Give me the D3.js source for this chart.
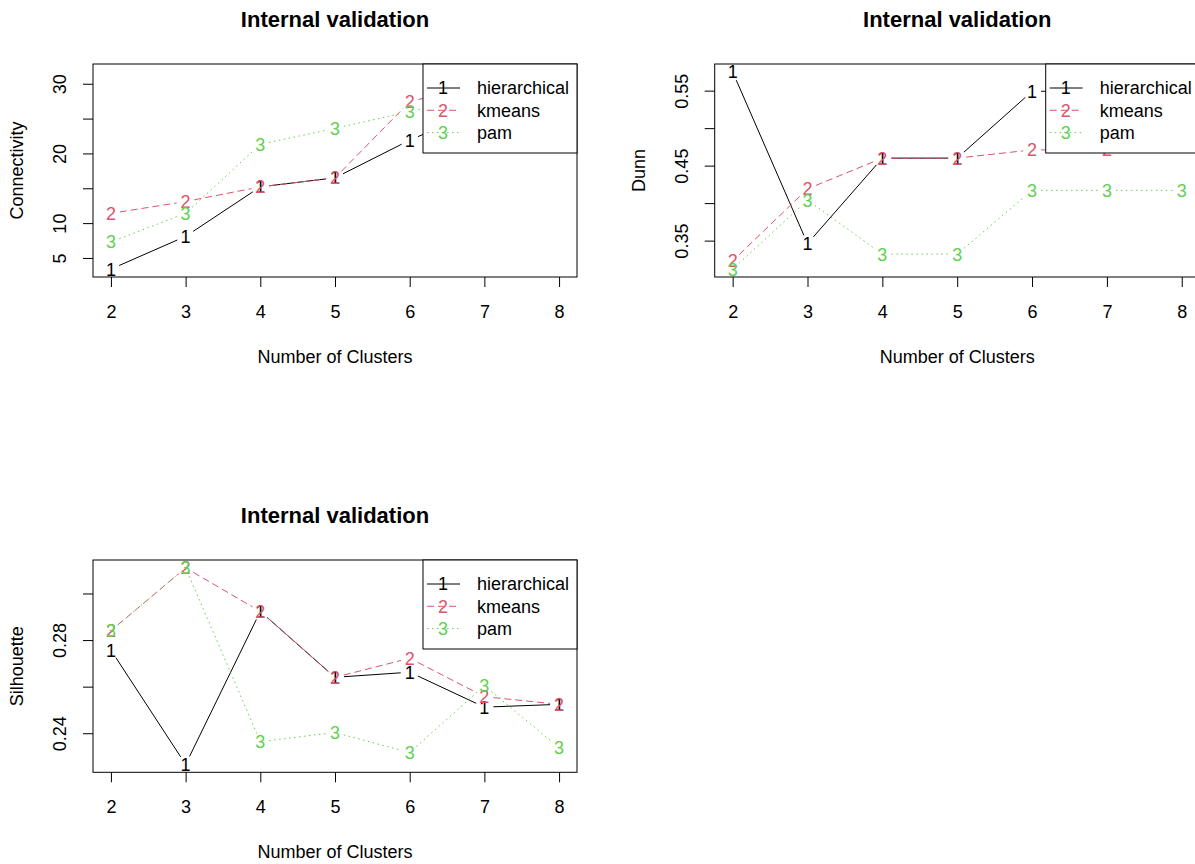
<!DOCTYPE html>
<html>
<head>
<meta charset="utf-8">
<script src="https://cdn.jsdelivr.net/npm/d3@7"></script>
<style>
body { margin: 0; background: #fff; }
text { font-family: "Liberation Sans", Arial, sans-serif; fill: #000; }
</style>
</head>
<body>
<svg id="chart" width="1195" height="864"></svg>
<script>
var clusters = [2, 3, 4, 5, 6, 7, 8];
var methods = ["hierarchical", "kmeans", "pam"];

// Connectivity (values at 7 and 8 end up under the legend)
var connHierarchical = [3.4, 8.1, 15.2, 16.5, 21.9, 26.5, 29.0];
var connKmeans = [11.4, 13.1, 15.2, 16.5, 27.4, 30.2, 31.7];
var connPam = [7.3, 11.4, 21.3, 23.6, 26.0, 28.5, 31.0];
var connTicks = [5, 10, 15, 20, 25, 30];
var connLabels = ["5", "10", "", "20", "", "30"];

// Dunn
var dunnHierarchical = [0.575, 0.346, 0.460, 0.460, 0.549, 0.550, 0.550];
var dunnKmeans = [0.323, 0.419, 0.460, 0.460, 0.471, 0.471, 0.490];
var dunnPam = [0.312, 0.404, 0.332, 0.332, 0.417, 0.417, 0.417];
var dunnTicks = [0.35, 0.40, 0.45, 0.50, 0.55];
var dunnLabels = ["0.35", "", "0.45", "", "0.55"];

// Silhouette
var silHierarchical = [0.2757, 0.2266, 0.2923, 0.2640, 0.2662, 0.2512, 0.2524];
var silKmeans = [0.2840, 0.3110, 0.2923, 0.2640, 0.2722, 0.2557, 0.2524];
var silPam = [0.2840, 0.3110, 0.2364, 0.2403, 0.2317, 0.2604, 0.2338];
var silTicks = [0.24, 0.26, 0.28, 0.30];
var silLabels = ["0.24", "", "0.28", ""];

var colors = ["#000000", "#DF536B", "#61D04F"];
var dashes = [null, "7,4", "1.5,3.5"];
var fs = 18;

var panels = [
    {ylab: "Connectivity", series: [connHierarchical, connKmeans, connPam], ticks: connTicks, labels: connLabels,
        left: 93, top: 64, right: 577, bottom: 277},
    {ylab: "Dunn", series: [dunnHierarchical, dunnKmeans, dunnPam], ticks: dunnTicks, labels: dunnLabels,
        left: 714.7, top: 64, right: 1199.7, bottom: 277},
    {ylab: "Silhouette", series: [silHierarchical, silKmeans, silPam], ticks: silTicks, labels: silLabels,
        left: 93, top: 560, right: 577, bottom: 772.3}
];

var svg = d3.select("#chart");

// R style: 4% padding on both ends of the range
function padded(ext) {
    var p = (ext[1] - ext[0]) * 0.04;
    return [ext[0] - p, ext[1] + p];
}

// type="b": leave a gap round each point
function gapSegments(pts, gap) {
    var segs = [];
    for (var i = 0; i < pts.length - 1; i++) {
        var a = pts[i], b = pts[i + 1];
        var d = Math.hypot(b[0] - a[0], b[1] - a[1]);
        if (d > 2 * gap) {
            var f = gap / d;
            segs.push([a[0] + f * (b[0] - a[0]), a[1] + f * (b[1] - a[1]),
                b[0] - f * (b[0] - a[0]), b[1] - f * (b[1] - a[1])]);
        }
    }
    return segs;
}

var lw = 154, lh = 89;

panels.forEach(function (p, pi) {
    var x = d3.scaleLinear().domain(padded(d3.extent(clusters))).range([p.left, p.right]);
    var allVals = [].concat(p.series[0], p.series[1], p.series[2]);
    var y = d3.scaleLinear().domain(padded(d3.extent(allVals))).range([p.bottom, p.top]);

    // legend box area, points fully under it are not visible anyway
    var legX = p.right - lw, legB = p.top + lh;
    function hidden(d) {
        return d[0] - 7 > legX && d[1] + 9 < legB;
    }

    var g = svg.append("g");

    g.append("clipPath").attr("id", "clip" + pi)
        .append("rect")
        .attr("x", p.left).attr("y", p.top)
        .attr("width", p.right - p.left).attr("height", p.bottom - p.top);

    var plot = g.append("g").attr("clip-path", "url(#clip" + pi + ")");

    p.series.forEach(function (vals, si) {
        var pts = vals.map(function (v, i) {
            return [x(clusters[i]), y(v)];
        });
        plot.selectAll(null)
            .data(gapSegments(pts, 9))
            .enter().append("line")
            .attr("x1", function (d) { return d[0]; })
            .attr("y1", function (d) { return d[1]; })
            .attr("x2", function (d) { return d[2]; })
            .attr("y2", function (d) { return d[3]; })
            .attr("stroke", colors[si])
            .attr("stroke-width", 1)
            .attr("stroke-dasharray", dashes[si]);
        plot.selectAll(null)
            .data(pts.filter(function (d) { return !hidden(d); }))
            .enter().append("text")
            .attr("x", function (d) { return d[0]; })
            .attr("y", function (d) { return d[1]; })
            .attr("dy", "0.36em")
            .attr("text-anchor", "middle")
            .style("font-size", fs + "px")
            .style("fill", colors[si])
            .text(si + 1);
    });

    // x axis
    var xa = g.append("g")
        .attr("transform", "translate(0," + p.bottom + ")")
        .call(d3.axisBottom(x).tickValues(clusters).tickFormat(d3.format("d"))
            .tickSize(10).tickSizeOuter(0).tickPadding(20));
    xa.select(".domain").remove();
    xa.selectAll("line").attr("stroke", "#000");
    xa.selectAll("text").style("font-size", fs + "px").attr("font-family", null)
        .attr("dy", null).attr("y", 41);

    // y axis
    var ya = g.append("g")
        .attr("transform", "translate(" + p.left + ",0)")
        .call(d3.axisLeft(y).tickValues(p.ticks)
            .tickFormat(function (d, i) { return p.labels[i]; })
            .tickSize(10).tickSizeOuter(0));
    ya.select(".domain").remove();
    ya.selectAll("line").attr("stroke", "#000");
    ya.selectAll("text").style("font-size", fs + "px").attr("font-family", null)
        .attr("x", 0).attr("y", 0).attr("dy", "0.35em")
        .attr("text-anchor", "middle")
        .attr("transform", "translate(-33,0) rotate(-90)");

    // box
    g.append("rect")
        .attr("x", p.left).attr("y", p.top)
        .attr("width", p.right - p.left).attr("height", p.bottom - p.top)
        .attr("fill", "none").attr("stroke", "#000").attr("stroke-width", 1);

    var cx = (p.left + p.right) / 2;
    var cy = (p.top + p.bottom) / 2;

    g.append("text")
        .attr("x", cx).attr("y", p.top - 37)
        .attr("text-anchor", "middle")
        .style("font-size", "22px").style("font-weight", "bold")
        .text("Internal validation");

    g.append("text")
        .attr("x", cx).attr("y", p.bottom + 86)
        .attr("text-anchor", "middle")
        .style("font-size", fs + "px")
        .text("Number of Clusters");

    g.append("text")
        .attr("transform", "translate(" + (p.left - 76) + "," + cy + ") rotate(-90)")
        .attr("dy", "0.35em")
        .attr("text-anchor", "middle")
        .style("font-size", fs + "px")
        .text(p.ylab);

    // legend, topright
    var lg = g.append("g").attr("transform", "translate(" + legX + "," + p.top + ")");
    lg.append("rect").attr("width", lw).attr("height", lh)
        .attr("fill", "#fff").attr("stroke", "#000").attr("stroke-width", 1);
    methods.forEach(function (m, i) {
        var ry = 24 + i * 22.3;
        lg.append("line")
            .attr("x1", 4).attr("x2", 37).attr("y1", ry).attr("y2", ry)
            .attr("stroke", colors[i]).attr("stroke-dasharray", dashes[i]);
        lg.append("text")
            .attr("x", 20).attr("y", ry).attr("dy", "0.36em")
            .attr("text-anchor", "middle")
            .style("font-size", fs + "px").style("fill", colors[i])
            .text(i + 1);
        lg.append("text")
            .attr("x", 54).attr("y", ry).attr("dy", "0.36em")
            .style("font-size", fs + "px")
            .text(m);
    });
});
</script>
</body>
</html>
